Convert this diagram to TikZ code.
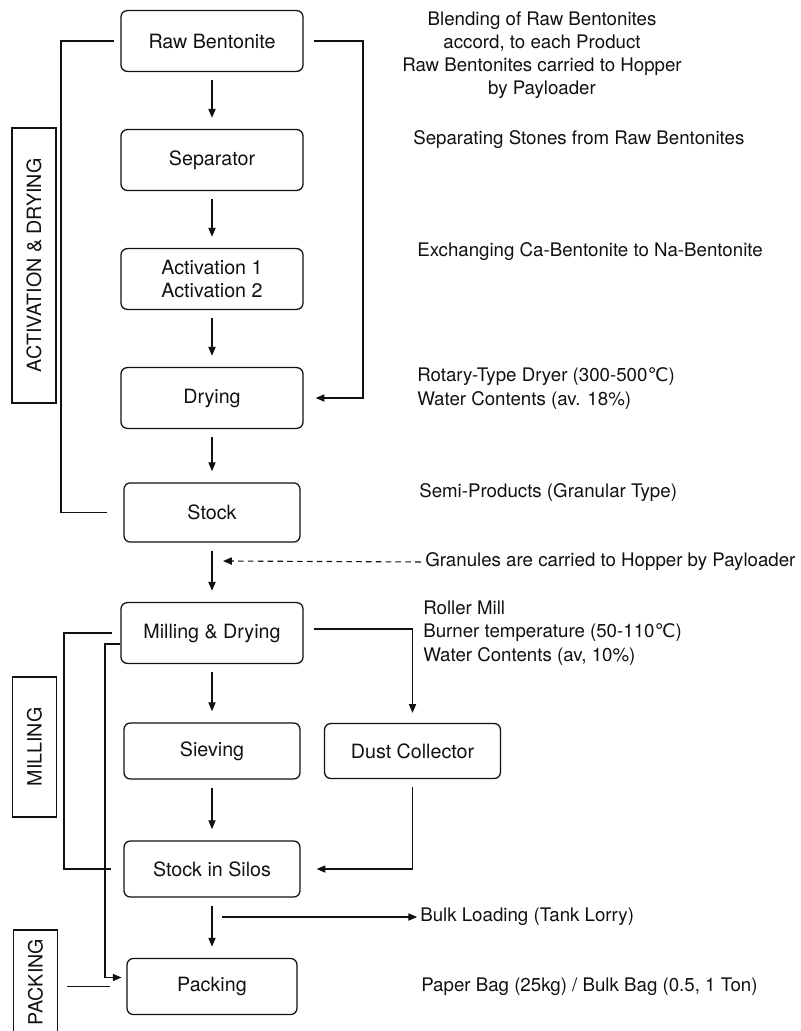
\documentclass[tikz,border=0pt]{standalone}
\usepackage{fontspec}
\setmainfont{TeX Gyre Heros}
\newfontfamily\celsiusfont{DejaVu Sans}
\usepackage{xcolor}
\usepackage{tikz}
\usetikzlibrary{arrows.meta}
\definecolor{Ink}{HTML}{111111}
\newcommand{\degC}{{\celsiusfont ℃}}

\begin{document}
\begin{tikzpicture}[
  box/.style={rectangle, rounded corners=4.5pt, draw=Ink, line width=0.9pt, align=center, minimum width=4.55cm, minimum height=1.52cm, inner sep=2pt, text=Ink, font=\fontsize{14}{17}\selectfont},
  smallbox/.style={box, minimum width=4.4cm, minimum height=1.4cm},
  stage/.style={rectangle, draw=Ink, line width=0.9pt, rotate=90, minimum height=1.1cm, text=Ink, font=\fontsize{14}{17}\selectfont},
  note/.style={inner sep=0pt, align=left, anchor=west, text=Ink, font=\fontsize{13.3}{16.5}\selectfont},
  link/.style={draw=Ink, line width=0.8pt},
  arrow/.style={-{Triangle[length=2.2mm,width=1.8mm]}, line width=0.8pt, draw=Ink},
  dasharrow/.style={arrow, dash pattern=on 4pt off 3pt}
]
\useasboundingbox (0,0) rectangle (20,-25.775);

% process boxes
\node[box] (raw) at (5.3,-1.025) {Raw Bentonite};
\node[box] (sep) at (5.3,-4.0) {Separator};
\node[box] (act) at (5.3,-6.975) {Activation 1\\Activation 2};
\node[box] (dry) at (5.3,-9.95) {Drying};
\node[smallbox, minimum height=1.48cm] (stock) at (5.3,-12.8125) {Stock};
\node[box] (mill) at (5.3,-15.825) {Milling \& Drying};
\node[smallbox] (siev) at (5.3,-18.775) {Sieving};
\node[smallbox, minimum height=1.375cm] (dust) at (10.3125,-18.775) {Dust Collector};
\node[smallbox] (silos) at (5.3,-21.725) {Stock in Silos};
\node[smallbox, minimum width=4.25cm] (pack) at (5.3,-24.6625) {Packing};

% stage labels
\node[stage, minimum width=6.875cm] (actlbl) at (0.85,-6.6375) {ACTIVATION \& DRYING};
\node[stage, minimum width=3.5cm] (milllbl) at (0.8625,-18.675) {MILLING};
\node[stage, minimum width=2.6cm] (packlbl) at (0.8875,-24.55) {PACKING};

% notes on the right
\node[note, anchor=center, align=center] (blend) at (13.55,-1.375) {Blending of Raw Bentonites\\accord, to each Product\\Raw Bentonites carried to Hopper\\by Payloader};
\node[note] (sepnote) at (10.325,-3.5) {Separating Stones from Raw Bentonites};
\node[note] (actnote) at (10.425,-6.3) {Exchanging Ca-Bentonite to Na-Bentonite};
\node[note] (drynote) at (10.425,-9.7125) {Rotary-Type Dryer (300-500\degC)\\Water Contents (av. 18\%)};
\node[note] (stocknote) at (10.475,-12.325) {Semi-Products (Granular Type)};
\node[note] (gran) at (10.625,-14.05) {Granules are carried to Hopper by Payloader};
\node[note] (millnote) at (10.575,-15.825) {Roller Mill\\Burner temperature (50-110\degC)\\Water Contents (av, 10\%)};
\node[note] (bulk) at (10.5,-22.925) {Bulk Loading (Tank Lorry)};
\node[note] (packnote) at (10.525,-24.675) {Paper Bag (25kg) / Bulk Bag (0.5, 1 Ton)};

% rails and free ends
\coordinate (railA) at (1.525,0);
\coordinate (railB) at (9.075,0);
\coordinate (railC) at (1.6,0);
\coordinate (railD) at (2.625,0);
\coordinate (drop) at (5.575,-14.025);
\coordinate (branch) at (5.55,-22.925);

% main flow
\foreach \a/\b in {raw/sep, sep/act, act/dry, dry/stock, stock/mill, mill/siev, siev/silos, silos/pack}
  \draw[arrow, shorten <=0.2cm, shorten >=0.28cm] (\a.south) -- (\b.north);

\draw[link] ([xshift=-0.15cm]raw.west) -| (railA |- stock.west) -- ([xshift=-0.4cm]stock.west);
\draw[arrow] ([xshift=0.25cm]raw.east) -| (railB |- dry.east) -- ([xshift=0.3cm]dry.east);

\draw[dasharrow, shorten <=3pt] (gran.west) -- (drop);

\draw[link] ([xshift=-0.2cm]mill.west) -| (railC |- silos.west) -- ([xshift=-0.3cm]silos.west);
\draw[arrow] ([yshift=-0.275cm]mill.west) -| ([yshift=0.225cm]railD |- pack.west) -- ([xshift=-0.12cm,yshift=0.225cm]pack.west);
\draw[arrow] ([xshift=0.25cm,yshift=0.1cm]mill.east) -| ([yshift=0.25cm]dust.north);
\draw[arrow] ([yshift=-0.2cm]dust.south) |- ([xshift=0.4cm]silos.east);

\draw[arrow, shorten >=2pt] (branch) -- (bulk.west);
\draw[link] ([xshift=0.225cm]packlbl.south |- pack.west) -- ([xshift=-0.4cm]pack.west);
\end{tikzpicture}
\end{document}
